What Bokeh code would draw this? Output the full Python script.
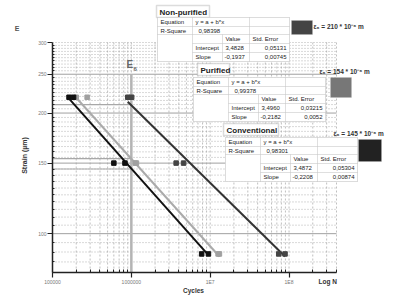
import math
from bokeh.plotting import figure
from bokeh.models import Range1d, FixedTicker, Label, BoxAnnotation
from bokeh.embed import file_html
from bokeh.resources import INLINE

# ---------------- data ----------------
series_names = ["Non-purified", "Purified", "Conventional"]

non_N = [9.0e5, 1.01e6, 3.7e6, 4.6e6, 7.4e7, 8.9e7]
non_S = [219, 219, 150, 150, 89, 89]
pur_N = [2.0e5, 2.75e5, 1.12e6, 1.16e6, 1.26e7, 1.31e7]
pur_S = [219, 219, 150, 150, 89, 89]
conv_N = [1.62e5, 1.85e5, 6.0e5, 8.3e5, 7.8e6, 9.5e6]
conv_S = [219, 219, 150, 150, 89, 89]

intercepts = [3.4828, 3.4960, 3.4872]
intercept_err = ["0,05131", "0,03215", "0,05304"]
slopes = [-0.1937, -0.2182, -0.2208]
slope_err = ["0,00745", "0,0052", "0,00874"]
r_square = ["0,98398", "0,99378", "0,98301"]
eps6 = [210, 154, 145]
n_ref = 1e6
ref_top = 250

x_ticks = [1e5, 1e6, 1e7, 1e8]
x_tick_labels = ["100000", "1000000", "1E7", "1E8"]
y_ticks = [100, 150, 200, 250, 300]
y_tick_labels = ["100", "150", "200", "250", "300"]
x_lo, x_hi = 1e5, 4e8
y_lo, y_hi = 80, 300

x_minor = [k * 10 ** d for d in range(5, 9) for k in range(2, 10) if k * 10 ** d <= x_hi]
y_minor = [v for v in range(y_lo, y_hi + 1, 5) if v not in y_ticks]

# ---------------- styles / layout ----------------
line_colors = ["#333333", "#aaaaaa", "#111111"]
marker_colors = ["#444444", "#a0a0a0", "#111111"]
swatch_colors = ["#444444", "#777777", "#222222"]
FONT = "Liberation Sans"

W, H = 418, 300
PX0, PX1, PY0, PY1 = 52, 336, 42, 272   # plot-area edges in page pixels (frame = whole canvas)

# ranges chosen so that the plot area lands on PX0..PX1 / PY0..PY1
lx0, lx1 = math.log10(x_lo), math.log10(x_hi)
ppd_x = (PX1 - PX0) / (lx1 - lx0)
ly0, ly1 = math.log10(y_lo), math.log10(y_hi)
ppd_y = (PY1 - PY0) / (ly1 - ly0)
xr = Range1d(10 ** (lx0 - PX0 / ppd_x), 10 ** (lx1 + (W - PX1) / ppd_x))
yr = Range1d(10 ** (ly0 - (H - PY1) / ppd_y), 10 ** (ly1 + PY0 / ppd_y))

p = figure(width=W, height=H, x_axis_type="log", y_axis_type="log",
           x_range=xr, y_range=yr,
           output_backend="svg", toolbar_location=None, title=None,
           min_border=0, min_border_left=0, min_border_right=0,
           min_border_top=0, min_border_bottom=0)
p.outline_line_color = None
p.background_fill_color = "white"
p.border_fill_color = "white"

xt = FixedTicker(ticks=x_ticks, minor_ticks=x_minor)
yt = FixedTicker(ticks=y_ticks, minor_ticks=y_minor)
p.xaxis.ticker = xt
p.yaxis.ticker = yt
p.xaxis.major_label_overrides = dict(zip(x_ticks, x_tick_labels))
p.yaxis.major_label_overrides = dict(zip([float(v) for v in y_ticks], y_tick_labels))
p.xaxis.fixed_location = y_lo
p.yaxis.fixed_location = x_lo
p.xaxis.bounds = (x_lo, x_hi)
p.yaxis.bounds = (y_lo, y_hi)

for ax in (p.xaxis[0], p.yaxis[0]):
    ax.axis_line_color = "#222222"
    ax.axis_line_width = 1.5
    ax.major_tick_line_color = "#222222"
    ax.minor_tick_line_color = "#222222"
    ax.major_tick_line_width = 1.2
    ax.major_tick_in = 0
    ax.major_tick_out = 5
    ax.minor_tick_in = 3
    ax.minor_tick_out = 0
    ax.major_label_text_font = FONT
    ax.major_label_text_font_size = "5px"
    ax.major_label_text_color = "#777777"
    ax.major_label_standoff = 1
p.yaxis.minor_tick_in = 2

p.xgrid.visible = False
p.ygrid.visible = False

# grid drawn inside the plot area only
vx = x_minor + x_ticks[1:]
p.segment(x0=vx, y0=[y_lo] * len(vx), x1=vx, y1=[y_hi] * len(vx),
          line_color="#b0b0b0", line_dash="2 2", line_width=0.8)
hy_minor = y_minor + [y_hi]
p.segment(x0=[x_lo] * len(hy_minor), y0=hy_minor, x1=[x_hi] * len(hy_minor), y1=hy_minor,
          line_color="#a0a0a0", line_dash="1 2", line_width=0.8)
hy_major = [v for v in y_ticks if v < y_hi]
p.segment(x0=[x_lo] * len(hy_major), y0=hy_major, x1=[x_hi] * len(hy_major), y1=hy_major,
          line_color="#a0a0a0", line_width=1)

# reference lines
p.segment(x0=[n_ref], y0=[y_lo], x1=[n_ref], y1=[ref_top], line_color="#b4b4b4", line_width=2.5)
p.segment(x0=[x_lo] * 3, y0=eps6, x1=[n_ref] * 3, y1=eps6, line_color="#a8a8a8", line_width=1.2)

# regression lines and points
data_N = [non_N, pur_N, conv_N]
data_S = [non_S, pur_S, conv_S]
for i in range(3):
    lx = [min(data_N[i]), max(data_N[i])]
    ly = [10 ** (intercepts[i] + slopes[i] * math.log10(v)) for v in lx]
    p.line(lx, ly, line_color=line_colors[i], line_width=2)
for i in range(3):
    p.scatter(data_N[i], data_S[i], marker="square", size=4.5,
              fill_color=marker_colors[i], line_color=marker_colors[i])

# ---------------- annotations (page-pixel helpers) ----------------
def sx(X):
    return X

def sy(Y):
    return H - Y

def box(X0, Y0, X1, Y1, fill="white", line="#a0a0a0", lw=0.8):
    p.add_layout(BoxAnnotation(left=sx(X0), right=sx(X1), top=sy(Y0), bottom=sy(Y1),
                               left_units="screen", right_units="screen",
                               top_units="screen", bottom_units="screen",
                               fill_color=fill, fill_alpha=1, line_color=line,
                               line_width=lw, level="overlay"))

def text(X, Y, t, size, bold=False, color="#222222", align="left", angle=0, font=FONT):
    p.add_layout(Label(x=sx(X), y=sy(Y), x_units="screen", y_units="screen", text=t,
                       text_font=font, text_font_size=f"{size}px",
                       text_font_style="bold" if bold else "normal",
                       text_color=color, text_align=align, text_baseline="middle",
                       angle=angle, level="overlay"))

# axis texts
text(16.5, 27.5, "E", 7, bold=True, color="#555555", align="center")
text(24, 155, "Strain (\u00b5m)", 7, bold=True, color="#333333", align="center", angle=math.pi / 2)
text(193, 290, "Cycles", 6.5, bold=True, color="#333333", align="center")
text(318, 281, "Log N", 6.5, bold=True, color="#333333")
text(126, 63.5, "E", 10, bold=True, color="#666666")
text(133, 68.5, "6", 6, bold=True, color="#666666")

# tables
title_boxes = [(156, 5, 209, 17), (197, 63, 229, 75), (223, 123, 278, 135)]
table_origin = [(157, 17), (193, 77), (225, 137)]
col_w = [35, 30, 27, 40]
row_h = [9, 8, 9, 9, 9]
swatches = [(291, 20, 312, 34), (330, 77, 351, 97), (358, 139, 381, 161)]
eps_pos = [(313, 26), (319, 71), (333, 133)]

for i in range(3):
    tx0, ty0, tx1, ty1 = title_boxes[i]
    box(tx0, ty0, tx1, ty1, line="#8a8a8a", lw=1.5)
    text(tx0 + 3, (ty0 + ty1) / 2 + 0.5, series_names[i], 8, bold=True)
    X0, Y0 = table_origin[i]
    c = [X0]
    for w in col_w:
        c.append(c[-1] + w)
    r = [Y0]
    for h in row_h:
        r.append(r[-1] + h)
    box(c[0], r[0], c[4], r[5], line="#999999", lw=1)
    for k in range(2):
        box(c[0], r[k], c[1], r[k + 1])
        box(c[1], r[k], c[3], r[k + 1])
        box(c[3], r[k], c[4], r[k + 1])
    box(c[0], r[2], c[1], r[5])
    for k in range(2, 5):
        for j in range(1, 4):
            box(c[j], r[k], c[j + 1], r[k + 1])
    mid = [(r[k] + r[k + 1]) / 2 for k in range(5)]
    fs = 6
    text(c[0] + 3, mid[0], "Equation", fs)
    text(c[1] + 3, mid[0], "y = a + b*x", fs)
    text(c[0] + 3, mid[1], "R-Square", fs)
    text(c[1] + 6, mid[1], r_square[i], fs)
    text(c[2] + 3, mid[2], "Value", fs)
    text(c[3] + 3, mid[2], "Std. Error", fs)
    text(c[1] + 3, mid[3], "Intercept", fs)
    text(c[2] + 3, mid[3], f"{intercepts[i]:.4f}".replace(".", ","), fs)
    text(c[4] - 3, mid[3], intercept_err[i], fs, align="right")
    text(c[1] + 3, mid[4], "Slope", fs)
    text(c[2] + 2, mid[4], f"{slopes[i]:.4f}".replace(".", ","), fs)
    text(c[4] - 3, mid[4], slope_err[i], fs, align="right")
    # swatch and eps label
    a0, b0, a1, b1 = swatches[i]
    box(a0, b0, a1, b1, fill=swatch_colors[i], line="#bbbbbb", lw=0.8)
    ex, ey = eps_pos[i]
    text(ex, ey, f"\u03b5\u2086 = {eps6[i]} * 10\u207b\u2076 m", 6.5, bold=True, color="#333333")

open("out.html", "w").write(file_html(p, INLINE))
